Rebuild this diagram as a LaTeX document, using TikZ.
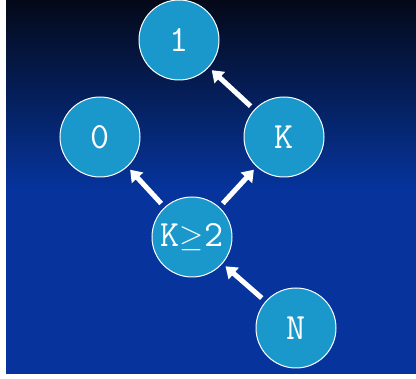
\documentclass[tikz,border=0pt]{standalone}
\usepackage{fontspec}
\usetikzlibrary{arrows.meta}
\definecolor{bgtop}{RGB}{4,9,24}
\definecolor{bgblue}{RGB}{6,52,156}
\definecolor{bubblefill}{RGB}{26,152,204}
\newcommand{\linkarrow}[2]{\draw[arrow] (#1) -- (#2);}
\begin{document}
\begin{tikzpicture}
                [x=1pt,y=1pt,
                bubble/.style={circle,draw=white,line width=1pt,fill=bubblefill,
                    minimum size=80pt,inner sep=0pt,text=white,
                    font=\ttfamily\fontsize{37}{37}\selectfont},
                arrow/.style={-{Triangle[length=11pt,width=15pt]},white,line width=5pt,
                    shorten <=5pt,shorten >=4pt},
                ]
                \useasboundingbox (0,0) rectangle (416,379);
                \fill[white] (0,0) rectangle (416,379);
                \shade[top color=bgtop,bottom color=bgblue] (6,190) rectangle (416,379);
                \fill[bgblue] (6,5) rectangle (416,190.5);
                \node[bubble] (one) at (179,339) {1};
                \node[bubble] (zero) at (100,242) {0};
                \node[bubble] (k) at (284,242) {K};
                \node[bubble] (kge) at (192,142) {K\scalebox{1.25}{$\geq$}2};
                \node[bubble] (n) at (296,51) {N};
                \linkarrow{k}{one}
                \linkarrow{kge}{zero}
                \linkarrow{kge}{k}
                \linkarrow{n}{kge}
            \end{tikzpicture}
\end{document}
